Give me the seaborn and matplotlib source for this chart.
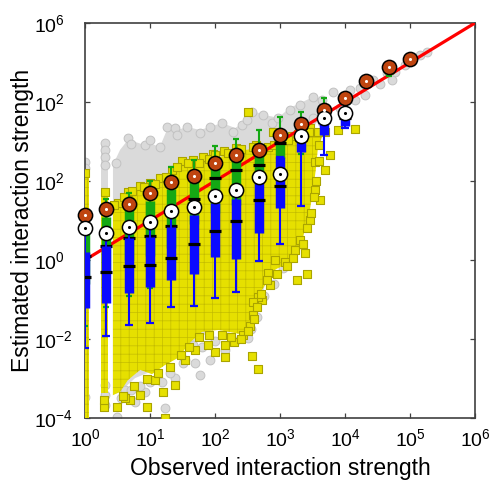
import numpy as np
import pandas as pd
import matplotlib
matplotlib.use('Agg')
import matplotlib.pyplot as plt
import seaborn as sns

sns.set_theme(style="ticks")
plt.rcParams['font.family'] = ['Liberation Sans', 'DejaVu Sans']
plt.rcParams['mathtext.default'] = 'regular'
plt.rcParams['hatch.linewidth'] = 0.5
plt.rcParams['text.color'] = 'black'
plt.rcParams['axes.labelcolor'] = 'black'

# ---- binned summaries (all values are log10), bins at 10^(k/3)
bin_logx = [0.00, 0.33, 0.67, 1.00, 1.33, 1.67, 2.00, 2.33, 2.67, 3.00, 3.33, 3.67, 4.00, 4.33, 4.67, 5.00]
orange_logy = [1.14, 1.28, 1.43, 1.69, 1.97, 2.13, 2.46, 2.66, 2.79, 3.16, 3.44, 3.81, 4.10, 4.54, 4.89, 5.09]
white_logy = [0.82, 0.69, 0.84, 0.97, 1.25, 1.35, 1.62, 1.77, 2.11, 2.18, 3.14, 3.60, 3.71]

# blue boxes (bins 0..12)
blue_whislo = [-2.23, -1.92, -1.65, -1.59, -1.20, -1.16, -0.97, -0.82, -0.03, 0.41, 1.37, 2.66, 3.33]
blue_q1 = [-1.22, -1.09, -0.84, -0.69, -0.51, -0.35, 0.08, 0.02, 0.68, 1.31, 2.74, 3.16, 3.39]
blue_med = [-0.43, -0.31, -0.15, -0.13, 0.06, 0.40, 0.74, 0.99, 1.52, 1.87, 3.05, 3.50, 3.60]
blue_q3 = [0.20, 0.36, 0.55, 0.59, 0.84, 1.14, 1.44, 1.54, 2.05, 2.62, 3.20, 3.60, 3.75]
blue_whishi = [0.82, 0.69, 0.84, 0.97, 1.25, 1.35, 1.62, 1.77, 2.11, 2.62, 3.20, 3.60, 3.75]

# green boxes (bins 0..12 and 14)
green_logx = [0.00, 0.33, 0.67, 1.00, 1.33, 1.67, 2.00, 2.33, 2.67, 3.00, 3.33, 3.67, 4.00, 4.67]
green_whislo = [-1.67, -1.19, -0.90, -0.70, -0.40, 0.00, 0.30, 0.50, 1.20, 2.20, 2.68, 3.30, 3.80, 4.67]
green_q1 = [-0.60, -0.30, 0.00, 0.10, 0.30, 0.90, 1.20, 1.40, 2.00, 2.58, 3.20, 3.65, 3.95, 4.72]
green_med = [0.10, 0.36, 0.55, 0.60, 0.85, 1.54, 2.07, 2.28, 2.41, 2.95, 3.35, 3.75, 4.05, 4.80]
green_q3 = [0.90, 1.10, 1.30, 1.50, 1.80, 2.00, 2.35, 2.55, 2.75, 3.05, 3.50, 3.85, 4.15, 4.85]
green_whishi = [1.25, 1.54, 1.69, 2.01, 2.35, 2.53, 2.89, 3.06, 3.29, 3.61, 3.74, 4.09, 4.20, 4.90]

# ---- raw point clouds (log10): dense cores as outlines, edge/outlier points individually
gray_core_lx = [0.43, 0.54, 0.66, 0.77, 0.92, 1.00, 1.15, 1.26, 1.42, 1.57, 1.77, 1.92, 2.11, 2.31, 2.49, 2.62, 2.77, 2.97, 3.15,
                3.31, 3.51, 3.69, 3.62, 3.46, 3.38, 3.31, 3.25, 3.08, 2.77, 2.62, 2.38, 1.97, 1.69, 1.38, 1.08, 0.77, 0.54, 0.43]
gray_core_ly = [2.41, 2.79, 3.04, 2.99, 2.91, 2.96, 2.86, 3.29, 3.29, 3.37, 3.29, 3.37, 3.47, 3.34, 3.54, 3.75, 3.67, 3.60, 3.85,
                3.97, 4.13, 4.05, 3.67, 3.16, 2.41, 1.52, 0.76, 0.13, -0.63, -1.52, -1.77, -1.77, -2.03, -2.41, -2.78, -2.99, -3.34, -3.42]
yellow_core_lx = [0.43, 0.54, 0.66, 0.80, 1.00, 1.18, 1.38, 1.54, 1.69, 1.85, 2.05, 2.26, 2.49, 2.66, 2.80, 2.97, 3.08, 3.23, 3.38,
                  3.54, 3.65, 3.58, 3.55, 3.51, 3.46, 3.38, 3.31, 3.15, 2.92, 2.72, 2.66, 2.57, 2.46, 2.31, 2.05, 1.80, 1.62, 1.43,
                  1.23, 1.03, 0.85, 0.66, 0.54, 0.43]
yellow_core_ly = [1.34, 1.52, 1.65, 1.80, 1.87, 1.97, 2.23, 2.46, 2.41, 2.48, 2.58, 2.73, 2.79, 2.84, 2.79, 2.91, 2.99, 3.09, 3.24,
                  3.29, 3.16, 2.79, 2.28, 1.77, 1.27, 0.76, 0.25, -0.05, -0.25, -0.76, -1.27, -1.77, -1.90, -1.85, -1.77, -1.82,
                  -2.08, -2.48, -2.66, -2.89, -2.78, -3.04, -3.34, -3.42]

# integer observed counts 1 and 2 form vertical columns
col_logx = [0.00, 0.301]
gray_col_lo = [-4.00, -3.75]
gray_col_hi = [2.53, 2.96]
yellow_col_lo = [-4.00, -3.37]
yellow_col_hi = [2.20, 1.72]

gray_pts_lx = [0.00, 0.00, 0.31, 0.31, 0.31, 0.31, 0.48, 0.66, 0.71, 0.92, 1.00, 1.15, 1.26, 1.38, 1.42, 1.57, 1.77, 1.92, 2.11,
               2.28, 2.42, 2.49, 2.57, 2.74, 2.88, 2.97, 3.15, 3.31, 3.51, 3.65, 3.82, 3.95, 4.08, 4.23, 4.43, 4.54, 4.65, 4.77,
               4.92, 5.15, 5.26, 3.92, 4.15, 4.31, 4.72, 3.50, 3.70, 3.30, 3.45,
               2.42, 1.77, 1.69, 1.23, 1.38, 1.18, 0.62, 0.49, 0.77, 1.66, 1.46, 1.95, 2.20, 2.51, 3.22, 3.26, 0.92, 1.54,
               1.92, 2.15, 0.31, 0.31, 0.31, 0.00,
               0.55, 0.70, 0.85, 1.00, 1.30, 1.50, 1.80, 2.00, 2.30, 2.55, 2.65, 2.75, 2.90, 3.05, 3.20, 3.30, 3.36, 3.45,
               3.55, 3.65]
gray_pts_ly = [2.48, 2.33, 2.96, 2.79, 2.61, 2.41, 2.46, 3.09, 2.94, 2.91, 3.04, 2.86, 3.37, 3.34, 3.16, 3.37, 3.22, 3.37, 3.47,
               3.24, 3.42, 3.54, 3.75, 3.67, 3.47, 3.60, 3.80, 3.92, 4.13, 4.05, 4.25, 4.13, 4.30, 4.35, 4.56, 4.46, 4.73, 4.76,
               4.94, 5.19, 5.27, 3.85, 4.05, 4.18, 4.56, 3.60, 3.75, 3.50, 3.30,
               -1.39, -2.91, -2.61, -3.75, -2.99, -3.09, -3.29, -3.98, -3.60, -2.15, -1.82, -1.52, -1.70, -1.98, 0.81, 1.47,
               -3.34, -2.53, -2.53, -2.28, -3.16, -3.42, -3.67, -3.47,
               -3.50, -3.30, -3.20, -3.10, -2.85, -2.60, -2.20, -2.05, -2.05, -1.75, -1.45, -0.90, -0.60, -0.20, 0.30, 1.00,
               1.80, 2.60, 3.10, 3.50]

yellow_pts_lx = [0.00, 0.31, 0.51, 0.66, 0.85, 1.00, 1.15, 1.34, 1.49, 1.66, 1.82, 1.97, 2.14, 2.32, 2.51, 2.63, 2.82, 2.89, 3.02,
                 3.18, 3.34, 3.46, 3.89, 4.15, 3.69,
                 3.77, 3.69, 3.54, 3.54, 3.62, 3.46, 3.31, 3.38, 3.23, 3.08, 2.92, 3.26, 3.42, 2.82, 2.85, 2.72, 2.66, 2.58,
                 2.58, 2.54,
                 2.43, 2.29, 2.57, 2.66, 2.15, 2.00, 2.15, 1.89, 1.69, 1.54, 1.38, 1.20, 1.23, 0.95, 1.08, 0.85, 0.69, 0.62,
                 0.49, 0.29, 0.29,
                 0.58, 0.75, 0.95, 1.12, 1.30, 1.48, 1.60, 1.75, 1.90, 2.10, 2.25, 2.40, 2.50, 2.60, 2.64, 2.70, 2.80, 2.95,
                 3.10, 3.20, 3.35, 3.42, 3.48, 3.52, 3.56, 3.60, 3.60,
                 0.45, 0.60, 0.72, 0.90, 1.08, 1.25, 1.42, 1.58, 1.75, 1.90, 2.00, 2.20, 2.40, 2.58, 2.72, 2.90, 3.12, 3.28,
                 3.45, 3.58]
yellow_pts_ly = [2.20, 1.72, 1.44, 1.72, 1.87, 1.95, 2.08, 2.28, 2.51, 2.53, 2.61, 2.68, 2.76, 2.84, 3.75, 2.91, 2.86, 3.24, 3.04,
                 3.14, 3.27, 3.34, 3.29, 3.32, 3.24,
                 2.66, 2.28, 2.48, 1.77, 1.52, 1.01, 0.51, 0.18, 0.25, -0.05, 0.00, -0.51, -0.36, -0.33, -0.63, -1.01, -0.94,
                 -1.06, -1.39, -1.67,
                 -1.90, -2.08, -2.43, -2.76, -2.46, -2.33, -2.15, -2.15, -2.28, -2.53, -3.16, -3.34, -4.00, -3.72, -3.04, -3.42,
                 -3.54, -3.49, -3.72, -3.72, -3.54,
                 -3.45, -3.20, -3.00, -2.85, -2.70, -2.40, -2.20, -1.95, -1.90, -1.90, -1.95, -2.00, -1.80, -1.50, -1.20, -0.85,
                 -0.50, -0.35, -0.15, 0.05, 0.40, 0.80, 1.20, 1.60, 2.00, 2.50, 2.90,
                 1.40, 1.60, 1.75, 1.85, 1.93, 2.10, 2.35, 2.45, 2.45, 2.55, 2.65, 2.72, 2.80, 2.85, 2.82, 2.90, 3.05, 3.18,
                 3.25, 3.25]

diag = [1e0, 1e6]

x_tick_labels = ['$10^{0}$', '$10^{1}$', '$10^{2}$', '$10^{3}$', '$10^{4}$', '$10^{5}$', '$10^{6}$']
y_tick_labels = ['$10^{-4}$', '$10^{-2}$', '$10^{0}$', '$10^{2}$', '$10^{2}$', '$10^{6}$']

GRAY, GRAY_EDGE = '#dadada', '#c2c2c2'
YELLOW, YELLOW_EDGE = '#e6e000', '#c4bd00'
GREEN, BLUE, ORANGE = '#14a814', '#0a0aff', '#bf4510'


def p(v):
    return 10 ** np.asarray(v, dtype=float)


fig = plt.figure(figsize=(4.93, 4.82), dpi=100)
ax = fig.add_axes([85 / 493, 64 / 482, 390 / 493, 395 / 482])
ax.set_xscale('log')
ax.set_yscale('log')

# gray cloud
ax.fill(p(gray_core_lx), p(gray_core_ly), facecolor=GRAY, linewidth=0, zorder=1)
for cx, lo, hi in zip(col_logx, gray_col_lo, gray_col_hi):
    ax.fill_between(p([cx - 0.06, cx + 0.06]), 10 ** lo, 10 ** hi, color=GRAY, linewidth=0, zorder=1)
gray_df = pd.DataFrame({'x': p(gray_pts_lx), 'y': p(gray_pts_ly)})
sns.scatterplot(data=gray_df, x='x', y='y', marker='o', s=40, color=GRAY, edgecolor=GRAY_EDGE,
                linewidth=0.7, ax=ax, zorder=2)

# yellow cloud
ax.fill(p(yellow_core_lx), p(yellow_core_ly), facecolor=YELLOW, edgecolor=YELLOW_EDGE, hatch='++', linewidth=0, zorder=3)
for cx, lo, hi in zip(col_logx, yellow_col_lo, yellow_col_hi):
    ax.fill_between(p([cx - 0.054, cx + 0.054]), 10 ** lo, 10 ** hi, facecolor=YELLOW, edgecolor=YELLOW_EDGE,
                    hatch='++', linewidth=0, zorder=3)
yel_df = pd.DataFrame({'x': p(yellow_pts_lx), 'y': p(yellow_pts_ly)})
sns.scatterplot(data=yel_df, x='x', y='y', marker='s', s=28, color=YELLOW, edgecolor='#aaa400',
                linewidth=0.8, ax=ax, zorder=4)

# identity line
sns.lineplot(x=diag, y=diag, color='#ff0000', linewidth=2.3, ax=ax, zorder=5)


def draw_boxes(lx, wlo, q1, med, q3, whi, color, capw, z):
    x = p(lx)
    ax.vlines(x, p(wlo), p(whi), color=color, linewidth=1.5, zorder=z)
    ax.plot(x, p(wlo), ls='none', marker='_', ms=capw, mew=1.6, color=color, zorder=z)
    ax.plot(x, p(whi), ls='none', marker='_', ms=capw, mew=1.6, color=color, zorder=z)
    ax.vlines(x, p(q1), p(q3), color=color, linewidth=6.8, zorder=z)
    ax.plot(x, p(med), ls='none', marker='_', ms=8, mew=2.3, color='black', zorder=z + 0.1)


draw_boxes(green_logx, green_whislo, green_q1, green_med, green_q3, green_whishi, GREEN, 4.3, 6)
draw_boxes(bin_logx[:13], blue_whislo, blue_q1, blue_med, blue_q3, blue_whishi, BLUE, 5.6, 7)

# bin means
orange_df = pd.DataFrame({'x': p(bin_logx), 'y': p(orange_logy)})
white_df = pd.DataFrame({'x': p(bin_logx[:13]), 'y': p(white_logy)})
sns.scatterplot(data=orange_df, x='x', y='y', s=105, color=ORANGE, edgecolor='black', linewidth=1.1,
                ax=ax, zorder=9, clip_on=False)
sns.scatterplot(data=orange_df, x='x', y='y', s=5, color='white', linewidth=0, ax=ax, zorder=10, clip_on=False)
sns.scatterplot(data=white_df, x='x', y='y', s=105, color='white', edgecolor='black', linewidth=1.1,
                ax=ax, zorder=9, clip_on=False)
sns.scatterplot(data=white_df, x='x', y='y', s=5, color='black', linewidth=0, ax=ax, zorder=10, clip_on=False)

ax.set_xlim(1, 1e6)
ax.set_ylim(1e-4, 1e6)
ax.set_xticks(p(range(7)))
ax.set_xticklabels(x_tick_labels)
ax.set_yticks(p([-4, -2, 0, 2, 4, 6]))
ax.set_yticklabels(y_tick_labels)
ax.minorticks_off()
ax.tick_params(which='both', direction='in', top=True, right=True, length=3.6, width=0.9,
               labelsize=14, colors='#404040', labelcolor='black')
ax.tick_params(axis='x', pad=7)
ax.tick_params(axis='y', pad=36.5)
for lab in ax.get_yticklabels():
    lab.set_horizontalalignment('left')
for s in ax.spines.values():
    s.set_linewidth(1.2)
    s.set_color('#404040')

ax.set_xlabel('Observed interaction strength', fontsize=16.5, va='center', color='black')
ax.set_ylabel('Estimated interaction strength', fontsize=16.5, va='center', ha='center',
              rotation_mode='default', color='black')
ax.xaxis.set_label_coords(0.5, -0.129)
ax.yaxis.set_label_coords(-0.161, 0.5)

fig.savefig('out.png', dpi=100)
